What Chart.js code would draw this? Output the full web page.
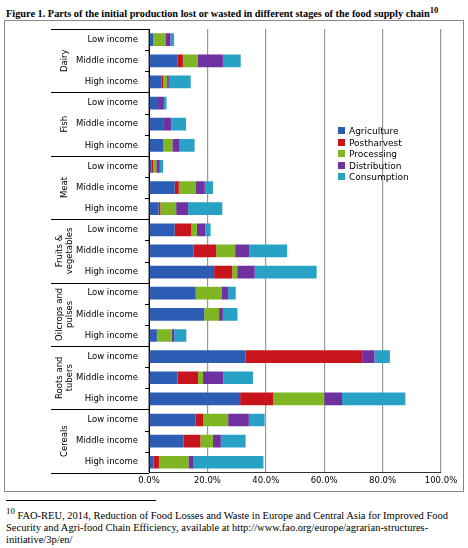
<!DOCTYPE html>
<html>
<head>
<meta charset="utf-8">
<script src="https://cdn.jsdelivr.net/npm/chart.js@4/dist/chart.umd.min.js"></script>
<style>
  body { margin: 0; background: #fff; font-family: "Liberation Serif", serif; }
  #title { position: absolute; left: 6px; top: 5px; font-size: 10.3px; font-weight: bold; white-space: nowrap; }
  #box { position: absolute; left: 4px; top: 20px; width: 458px; height: 470px; border: 1px solid #888; }
  #legend { position: absolute; left: 338px; top: 126px; font-family: "DejaVu Sans", sans-serif; font-size: 9px; line-height: 11.5px; }
  #legend span { display: inline-block; width: 7px; height: 7px; margin-right: 4px; }
  #foot { position: absolute; left: 6px; top: 500px; width: 455px; font-size: 10.5px; line-height: 12px; }
  #foot hr { width: 150px; margin: 0 0 4px 0; border: 0; border-top: 1px solid #000; }
</style>
</head>
<body>
<div id="title">Figure 1. Parts of the initial production lost or wasted in different stages of the food supply chain<sup>10</sup></div>
<div id="box"><canvas id="c" width="458" height="470"></canvas></div>
<div id="legend"></div>
<div id="foot"><hr><sup>10</sup> FAO-REU, 2014, Reduction of Food Losses and Waste in Europe and Central Asia for Improved Food Security and Agri-food Chain Efficiency, available at http://www.fao.org/europe/agrarian-structures-initiative/3p/en/</div>
<script>
var groups = ["Dairy", "Fish", "Meat", "Fruits & vegetables", "Oilcrops and pulses", "Roots and tubers", "Cereals"];
var incomes = ["Low income", "Middle income", "High income"];
var stages = ["Agriculture", "Postharvest", "Processing", "Distribution", "Consumption"];
var colors = ["#2c5cb4", "#c8141c", "#80b624", "#7030a0", "#28a2c4"];

// segment sizes per bar (%)
var agriculture  = [1.4, 9.7, 4.2,  3.1, 5.1, 4.8,  0.8, 8.8, 3.3,  8.8, 15.3, 22.3,  16, 18.9, 2.7,  33, 9.8, 31.2,  15.9, 11.8, 1.6];
var postharvest  = [0, 1.9, 0.6,  0, 0, 0,  0.7, 1.4, 0.6,  5.7, 7.7, 6.2,  0, 0, 0,  40, 7, 11.4,  2.7, 5.8, 1.8];
var processing   = [4.2, 5, 1.4,  0, 0, 3.2,  1, 5.7, 5.4,  1.9, 6.5, 1.7,  8.8, 5.1, 5.1,  0, 1.7, 17.4,  8.5, 4.3, 10.1];
var distribution = [1.8, 8.7, 0.6,  2, 2.6, 2.5,  1.2, 3.2, 4.1,  2.9, 4.9, 6,  2.3, 1.3, 0.8,  4.2, 6.9, 6.1,  7.1, 2.7, 1.8];
var consumption  = [1.2, 6.1, 7.5,  0.9, 5, 5.1,  1.1, 2.8, 11.7,  1.8, 12.9, 21.2,  2.6, 5, 4.2,  5.3, 10.2, 21.7,  5.4, 8.5, 23.9];
var xTicks = ["0.0%","10.0%","20.0%","30.0%","40.0%","50.0%","60.0%","70.0%","80.0%","90.0%","100.0%"];

var series = [agriculture, postharvest, processing, distribution, consumption];
var labels = [];
groups.forEach(function(g){ incomes.forEach(function(i){ labels.push(i); }); });

var legend = document.getElementById("legend");
stages.forEach(function(s, k){
  legend.innerHTML += '<div><span style="background:' + colors[k] + '"></span>' + s + '</div>';
});

var groupPlugin = {
  id: "groups",
  afterDraw: function(chart){
    var ctx = chart.ctx, y = chart.scales.y, x0 = chart.chartArea.left;
    ctx.save();
    ctx.strokeStyle = "#000"; ctx.lineWidth = 1;
    ctx.font = "8.5px 'DejaVu Sans'"; ctx.fillStyle = "#000";
    ctx.textAlign = "center"; ctx.textBaseline = "middle";
    var step = y.getPixelForValue(1) - y.getPixelForValue(0);
    for (var g = 0; g <= groups.length; g++) {
      var yy = Math.round(y.getPixelForValue(g * 3) - step / 2) + 0.5;
      ctx.beginPath(); ctx.moveTo(46, yy); ctx.lineTo(x0, yy); ctx.stroke();
      for (var t = 1; t < 3 && g < groups.length; t++) {
        var ty = Math.round(y.getPixelForValue(g * 3 + t) - step / 2) + 0.5;
        ctx.beginPath(); ctx.moveTo(x0 - 4, ty); ctx.lineTo(x0, ty); ctx.stroke();
      }
      if (g < groups.length) {
        var cy = y.getPixelForValue(g * 3 + 1);
        ctx.save(); ctx.translate(60, cy); ctx.rotate(-Math.PI / 2);
        var words = groups[g] === "Fruits & vegetables" ? ["Fruits &", "vegetables"] :
                    groups[g] === "Oilcrops and pulses" ? ["Oilcrops and", "pulses"] :
                    groups[g] === "Roots and tubers" ? ["Roots and", "tubers"] : [groups[g]];
        words.forEach(function(w, k){ ctx.fillText(w, 0, (k - (words.length - 1) / 2) * 10); });
        ctx.restore();
      }
    }
    ctx.restore();
  }
};

new Chart(document.getElementById("c"), {
  type: "bar",
  data: {
    labels: labels,
    datasets: stages.map(function(s, k){
      return { label: s, data: series[k], backgroundColor: colors[k], barPercentage: 0.6, categoryPercentage: 1 };
    })
  },
  options: {
    indexAxis: "y",
    responsive: false,
    animation: false,
    layout: { padding: { left: 0, right: 22, top: 6, bottom: 2 } },
    plugins: { legend: { display: false }, tooltip: { enabled: false } },
    scales: {
      x: {
        stacked: true, min: 0, max: 100,
        ticks: { stepSize: 10, color: "#000", font: { size: 8.5, family: "DejaVu Sans" },
                 callback: function(v, i){ return xTicks[i]; }, maxRotation: 0 },
        grid: { color: "#999", lineWidth: 1.2, drawTicks: false },
        border: { color: "#333" }
      },
      y: {
        stacked: true,
        afterFit: function(s){ s.width = 144; },
        ticks: { color: "#000", font: { size: 8.5, family: "DejaVu Sans" } },
        grid: { display: false },
        border: { color: "#000" }
      }
    }
  },
  plugins: [groupPlugin]
});
</script>
</body>
</html>
